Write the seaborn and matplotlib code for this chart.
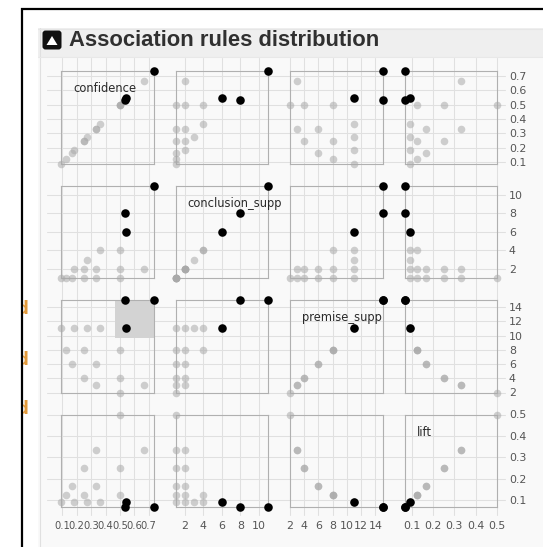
import matplotlib
matplotlib.use("Agg")
import matplotlib.pyplot as plt
from matplotlib.patches import Rectangle, FancyBboxPatch, Polygon
import pandas as pd
import seaborn as sns

# DATA (one row per rule)
premise_supp = [2, 3, 3, 4, 4, 6, 6, 8, 8, 8, 11, 11, 11, 11, 11, 15, 15]
conclusion_supp = [1, 1, 2, 1, 2, 1, 2, 1, 2, 4, 1, 2, 3, 4, 6, 8, 11]
confidence = [0.5, 0.333, 0.667, 0.25, 0.5, 0.167, 0.333, 0.125, 0.25, 0.5,
              0.091, 0.182, 0.273, 0.364, 0.545, 0.533, 0.733]
lift = [0.5, 0.333, 0.333, 0.25, 0.25, 0.167, 0.167, 0.125, 0.125, 0.125,
        0.091, 0.091, 0.091, 0.091, 0.091, 0.067, 0.067]
selected = [False, False, False, False, False, False, False, False, False, False,
            False, False, False, False, True, True, True]

variables = ["confidence", "conclusion_supp", "premise_supp", "lift"]
tick_values = {
    "confidence": [0.1, 0.2, 0.3, 0.4, 0.5, 0.6, 0.7],
    "conclusion_supp": [2, 4, 6, 8, 10],
    "premise_supp": [2, 4, 6, 8, 10, 12, 14],
    "lift": [0.1, 0.2, 0.3, 0.4, 0.5],
}
tick_labels = {
    "confidence": ["0.1", "0.2", "0.3", "0.4", "0.5", "0.6", "0.7"],
    "conclusion_supp": ["2", "4", "6", "8", "10"],
    "premise_supp": ["2", "4", "6", "8", "10", "12", "14"],
    "lift": ["0.1", "0.2", "0.3", "0.4", "0.5"],
}
# brush drawn in the premise_supp / confidence cell
brush_confidence = (0.468, 0.733)
brush_premise = (9.6, 15.0)

TITLE = "Association rules distribution"

df = pd.DataFrame({
    "confidence": confidence,
    "conclusion_supp": conclusion_supp,
    "premise_supp": premise_supp,
    "lift": lift,
    "selected": selected,
})
lims = {v: (df[v].min(), df[v].max()) for v in variables}

sns.set_theme(style="white")
plt.rcParams["font.family"] = ["DejaVu Sans"]

W, H = 543, 547
fig = plt.figure(figsize=(W / 100, H / 100), dpi=100)
fig.patch.set_facecolor("white")

# background / page chrome in pixel coords
bg = fig.add_axes([0, 0, 1, 1])
bg.set_xlim(0, W)
bg.set_ylim(H, 0)
bg.axis("off")
bg.set_zorder(0)

bg.add_patch(Rectangle((38, 28), W - 38, 29, fc="#efefef", ec="none"))
bg.add_patch(Rectangle((38, 57), W - 38, H - 57, fc="#f9f9f9", ec="none"))
bg.plot([39.5, 39.5], [28, H], color="#e0e0e0", lw=0.8)
bg.plot([38, W], [28.5, 28.5], color="#e6e6e6", lw=0.8)
bg.plot([38, W], [57, 57], color="#e8e8e8", lw=0.8)
bg.plot([21, W], [8.5, 8.5], color="black", lw=1.6, solid_capstyle="butt")
bg.plot([21.5, 21.5], [8, H], color="black", lw=1.6, solid_capstyle="butt")

bg.add_patch(FancyBboxPatch((42.5, 30.5), 19, 19,
                            boxstyle="round,pad=0,rounding_size=3",
                            fc="#111111", ec="none"))
bg.add_patch(Polygon([(46.5, 45), (57.5, 45), (52, 36)], closed=True,
                     fc="white", ec="none"))
bg.text(69, 40, TITLE, fontsize=15.8, fontweight="bold", color="#303030",
        va="center", ha="left", family=["Liberation Sans", "DejaVu Sans"])

# clipped orange fragments at the left edge (text cut by the window)
clip = Rectangle((22.8, 0), 5, H, transform=bg.transData)
for yy in [309, 360, 409]:
    t = bg.text(28.5, yy, "d", ha="right", va="center", fontsize=12,
                fontweight="bold", color="#e29a3c", clip_on=True)
    t.set_clip_path(clip)

# SCATTER MATRIX
size = 92.5
step = 114.5
axes = [[None] * 4 for _ in range(4)]
for j, yv in enumerate(variables):
    for i, xv in enumerate(variables):
        left = 61 + step * i
        top = 71 + step * j
        ax = fig.add_axes([left / W, 1 - (top + size) / H, size / W, size / H])
        ax.set_zorder(1)
        ax.set_facecolor("none")
        axes[j][i] = ax

        rest = df[~df["selected"]]
        sel = df[df["selected"]]
        sns.scatterplot(data=rest, x=xv, y=yv, color="#a9a9a9", alpha=0.55,
                        s=30, linewidth=0, clip_on=False, zorder=3, ax=ax)
        sns.scatterplot(data=sel, x=xv, y=yv, color="black", s=38,
                        linewidth=0, clip_on=False, zorder=4, ax=ax)
        ax.set_xlim(lims[xv])
        ax.set_ylim(lims[yv])
        ax.set_xlabel("")
        ax.set_ylabel("")

        for sp in ax.spines.values():
            sp.set_color("#b0b0b0")
            sp.set_linewidth(0.8)

        ax.set_xticks(tick_values[xv])
        ax.set_xticklabels(tick_labels[xv] if j == 3 else [])
        ax.yaxis.tick_right()
        ax.set_yticks(tick_values[yv])
        ax.set_yticklabels(tick_labels[yv] if i == 3 else [])
        ax.tick_params(axis="both", length=0, labelsize=7.9, colors="#555555")
        ax.tick_params(axis="x", pad=10)
        ax.tick_params(axis="y", pad=8.5)
        if xv == "confidence":
            ax.tick_params(axis="x", labelsize=7.2)
        ax.grid(False)

        if i == j:
            ax.text(12 / size, 1 - 18 / size, xv, transform=ax.transAxes,
                    ha="left", va="center", fontsize=8.3, color="#2a2a2a",
                    clip_on=False, zorder=5)

        if xv == "confidence" and yv == "premise_supp":
            ax.add_patch(Rectangle((brush_confidence[0], brush_premise[0]),
                                   brush_confidence[1] - brush_confidence[0],
                                   brush_premise[1] - brush_premise[0],
                                   fc="#d3d3d3", ec="none", zorder=1))

# grid lines spanning the whole matrix, placed by each column/row scale
for i, xv in enumerate(variables):
    ax0 = axes[0][i]
    for t in tick_values[xv]:
        x = ax0.transData.transform((t, lims[variables[0]][0]))[0]
        bg.plot([x, x], [58, 515], color="#e0e0e0", lw=0.75, zorder=1)
for j, yv in enumerate(variables):
    ax0 = axes[j][0]
    for t in tick_values[yv]:
        y = H - ax0.transData.transform((lims[variables[0]][0], t))[1]
        bg.plot([47, 505], [y, y], color="#e0e0e0", lw=0.75, zorder=1)

fig.savefig("out.png", dpi=100)
